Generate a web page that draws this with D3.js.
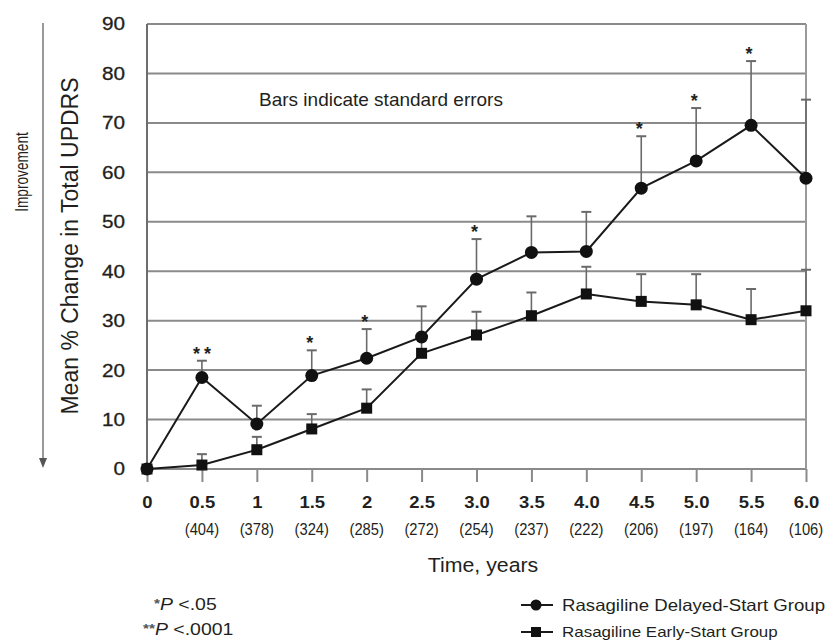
<!DOCTYPE html>
<html>
<head>
<meta charset="utf-8">
<script src="https://cdn.jsdelivr.net/npm/d3@7"></script>
<style>
  body { margin: 0; background: #fff; }
  svg text { font-family: "Liberation Sans", Arial, sans-serif; fill: #231f20; }
</style>
</head>
<body>
<script>
// time points (years) and their tick labels
var times = [0, 0.5, 1, 1.5, 2, 2.5, 3, 3.5, 4, 4.5, 5, 5.5, 6];
var timeLabels = ["0", "0.5", "1", "1.5", "2", "2.5", "3.0", "3.5", "4.0", "4.5", "5.0", "5.5", "6.0"];
var counts = ["", "(404)", "(378)", "(324)", "(285)", "(272)", "(254)", "(237)", "(222)", "(206)", "(197)", "(164)", "(106)"];

// mean % change in total UPDRS, and upper standard error
var delayed   = [0, 18.5, 9.1, 18.9, 22.4, 26.7, 38.4, 43.8, 44.0, 56.8, 62.3, 69.5, 58.8];
var delayedSE = [0, 3.4, 3.7, 5.1, 5.9, 6.2, 8.1, 7.3, 8.0, 10.5, 10.7, 13.0, 15.9];
var early     = [0, 0.8, 3.9, 8.1, 12.3, 23.4, 27.1, 31.0, 35.4, 33.9, 33.2, 30.2, 32.0];
var earlySE   = [0, 2.2, 2.6, 3.0, 3.8, 3.0, 4.7, 4.7, 5.5, 5.5, 6.2, 6.2, 8.3];
var signif    = ["", "**", "", "*", "*", "", "*", "", "", "*", "*", "*", ""];

var yTicks = [0, 10, 20, 30, 40, 50, 60, 70, 80, 90];

var width = 829, height = 642;

var svg = d3.select("body").append("svg")
    .attr("width", width)
    .attr("height", height);

var x = d3.scaleLinear().domain([0, 6]).range([147, 806]);
var y = d3.scaleLinear().domain([0, 90]).range([469, 24]);

// text placed at (px,py), stretched horizontally by sx, optionally rotated
function label(px, py, str, size, sx, rot) {
  var t = "translate(" + px + "," + py + ")";
  if (rot) t += " rotate(" + rot + ")";
  t += " scale(" + sx + ",1)";
  return svg.append("text")
      .attr("transform", t)
      .attr("font-size", size)
      .text(str);
}

// grid lines
svg.append("g")
    .selectAll("line")
    .data(yTicks)
    .enter().append("line")
    .attr("x1", x(0)).attr("x2", x(6))
    .attr("y1", function(d) { return y(d) }).attr("y2", function(d) { return y(d) })
    .attr("stroke", "#8a8a8a")
    .attr("stroke-width", 2);

// frame sides
svg.append("line")
    .attr("x1", x(0)).attr("x2", x(0)).attr("y1", y(90)).attr("y2", y(0))
    .attr("stroke", "#6d6d6d").attr("stroke-width", 2);
svg.append("line")
    .attr("x1", x(6)).attr("x2", x(6)).attr("y1", y(90)).attr("y2", y(0))
    .attr("stroke", "#9a9a9a").attr("stroke-width", 2);

// y axis labels
var ySx = 1.12;
var yAxis = svg.append("g")
    .attr("transform", "translate(" + x(0) + ",0)")
    .call(d3.axisLeft(y).tickValues(yTicks).tickSize(0));
yAxis.select(".domain").remove();
yAxis.selectAll("text")
    .attr("x", -22 / ySx)
    .attr("transform", "scale(" + ySx + ",1)")
    .attr("font-size", 18.5)
    .attr("stroke", "#231f20").attr("stroke-width", 0.3);

// x axis
var xAxis = svg.append("g")
    .attr("transform", "translate(0," + y(0) + ")")
    .call(d3.axisBottom(x).tickValues(times).tickSize(13)
      .tickFormat(function(d, i) { return timeLabels[i] }));
xAxis.select(".domain").remove();
xAxis.selectAll(".tick line").attr("stroke", "#8a8a8a").attr("stroke-width", 2);
xAxis.selectAll("text")
    .attr("y", 39).attr("dy", null)
    .attr("transform", "scale(1.12,1)")
    .attr("font-size", 16.5)
    .attr("font-weight", "bold");

// sample sizes under ticks
svg.append("g")
    .selectAll("text")
    .data(counts)
    .enter().append("text")
    .attr("transform", function(d, i) { return "translate(" + x(times[i]) + ",535) scale(0.92,1)" })
    .attr("text-anchor", "middle")
    .attr("font-size", 16)
    .text(function(d) { return d });

// error bars (upper half only)
function errorBars(vals, se, color) {
  var g = svg.append("g");
  var idx = d3.range(vals.length).filter(function(i) { return se[i] > 0 });
  g.selectAll("line.v").data(idx).enter().append("line")
      .attr("x1", function(i) { return x(times[i]) }).attr("x2", function(i) { return x(times[i]) })
      .attr("y1", function(i) { return y(vals[i]) }).attr("y2", function(i) { return y(vals[i] + se[i]) })
      .attr("stroke", color).attr("stroke-width", 1.6);
  g.selectAll("line.c").data(idx).enter().append("line")
      .attr("x1", function(i) { return x(times[i]) - 5 }).attr("x2", function(i) { return x(times[i]) + 5 })
      .attr("y1", function(i) { return y(vals[i] + se[i]) }).attr("y2", function(i) { return y(vals[i] + se[i]) })
      .attr("stroke", color).attr("stroke-width", 2);
}
errorBars(early, earlySE, "#6a6a6a");
errorBars(delayed, delayedSE, "#6a6a6a");

var line = d3.line()
    .x(function(d, i) { return x(times[i]) })
    .y(function(d) { return y(d) });

svg.append("path").datum(early)
    .attr("d", line).attr("fill", "none")
    .attr("stroke", "#1a1a1a").attr("stroke-width", 2);
svg.append("path").datum(delayed)
    .attr("d", line).attr("fill", "none")
    .attr("stroke", "#1a1a1a").attr("stroke-width", 2);

svg.append("g").selectAll("rect")
    .data(early)
    .enter().append("rect")
    .attr("x", function(d, i) { return x(times[i]) - 5.5 })
    .attr("y", function(d) { return y(d) - 5.5 })
    .attr("width", 11).attr("height", 11)
    .attr("fill", "#111");

svg.append("g").selectAll("circle")
    .data(delayed)
    .enter().append("circle")
    .attr("cx", function(d, i) { return x(times[i]) })
    .attr("cy", function(d) { return y(d) })
    .attr("r", 6.5)
    .attr("fill", "#111");

// significance stars
svg.append("g").selectAll("text")
    .data(signif)
    .enter().append("text")
    .attr("x", function(d, i) { return x(times[i]) + (d.length > 1 ? 2 : 0) })
    .attr("y", function(d, i) { return y(delayed[i] + delayedSE[i]) - 1 })
    .attr("text-anchor", "middle")
    .attr("font-size", 18)
    .attr("font-weight", "bold")
    .attr("letter-spacing", 4)
    .attr("fill", "#333")
    .text(function(d) { return d });

label(259, 106, "Bars indicate standard errors", 19, 1);

// axis titles
label(78, 246, "Mean % Change in Total UPDRS", 23, 1, -90).attr("text-anchor", "middle");
label(28, 172, "Improvement", 18, 0.76, -90).attr("text-anchor", "middle");

svg.append("line")
    .attr("x1", 43).attr("x2", 43).attr("y1", 23).attr("y2", 460)
    .attr("stroke", "#777").attr("stroke-width", 1.5);
svg.append("path")
    .attr("d", "M39,458 L47,458 L43,468 Z")
    .attr("fill", "#555");

label(483, 572, "Time, years", 20.5, 1.04).attr("text-anchor", "middle");

// footnotes
var fn1 = label(154, 610, "", 16.5, 1.18);
fn1.append("tspan").attr("font-size", 13).attr("font-weight", "bold").attr("dy", -2).attr("fill", "#555").text("*");
fn1.append("tspan").attr("dy", 2).attr("font-style", "italic").text("P");
fn1.append("tspan").text(" <.05");

var fn2 = label(143, 635, "", 16.5, 1.18);
fn2.append("tspan").attr("font-size", 13).attr("font-weight", "bold").attr("dy", -2).attr("fill", "#555").text("**");
fn2.append("tspan").attr("dy", 2).attr("font-style", "italic").text("P");
fn2.append("tspan").text(" <.0001");

// legend
var legend = [
  { name: "Rasagiline Delayed-Start Group", shape: "circle", y: 605, size: 16.5, base: 611 },
  { name: "Rasagiline Early-Start Group", shape: "square", y: 632, size: 15, base: 637 }
];
var lg = svg.append("g").selectAll("g").data(legend).enter().append("g");
lg.append("line")
    .attr("x1", 521).attr("x2", 553)
    .attr("y1", function(d) { return d.y }).attr("y2", function(d) { return d.y })
    .attr("stroke", "#1a1a1a").attr("stroke-width", 2);
lg.filter(function(d) { return d.shape == "circle" }).append("circle")
    .attr("cx", 536).attr("cy", function(d) { return d.y }).attr("r", 5.5).attr("fill", "#111");
lg.filter(function(d) { return d.shape == "square" }).append("rect")
    .attr("x", 531).attr("y", function(d) { return d.y - 5 }).attr("width", 10).attr("height", 10).attr("fill", "#111");
lg.append("text")
    .attr("transform", function(d) { return "translate(562," + d.base + ") scale(1.13,1)" })
    .attr("font-size", function(d) { return d.size })
    .text(function(d) { return d.name });
</script>
</body>
</html>
